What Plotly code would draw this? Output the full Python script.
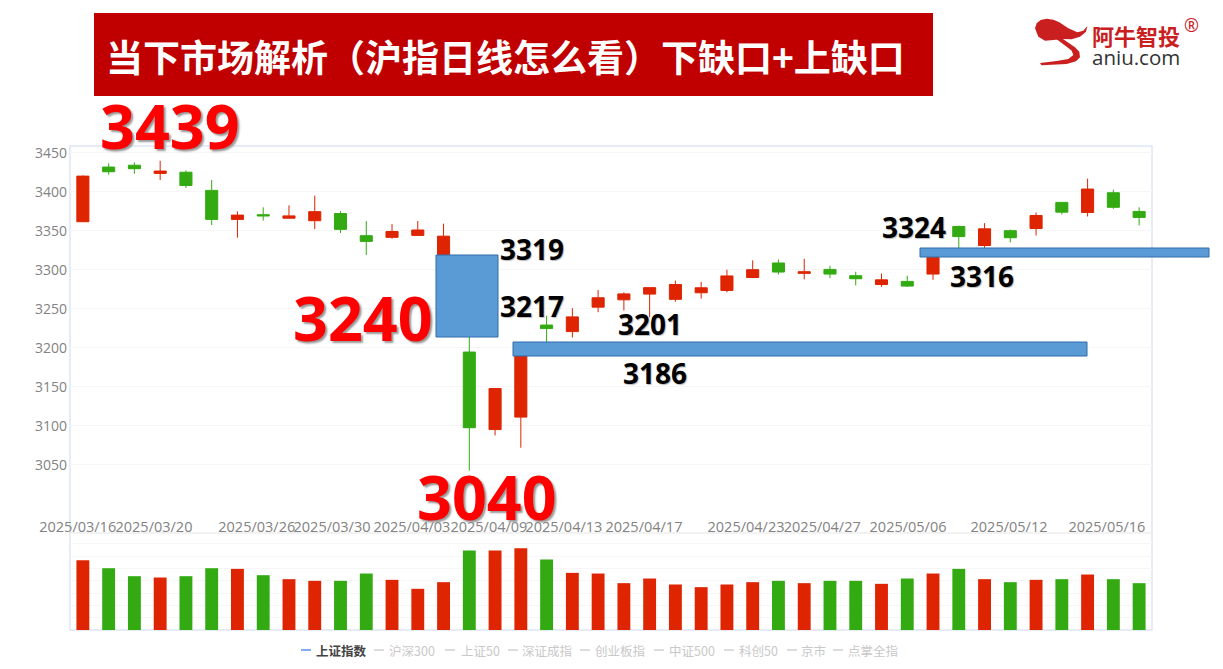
"""
Shanghai index daily candles with the gap boxes and slide header drawn over them.
"""

import numpy as np
import plotly.graph_objects as go
from plotly.subplots import make_subplots

W, H = 1223, 669
PAGE_MARGIN = 8  # default body margin of the page write_html produces

# candles, index 0..41
OPEN = [3361.5, 3431.6, 3434.0, 3423.5, 3425.0, 3401.7, 3364.5, 3370.5, 3366.0, 3362.8, 3372.0, 3343.6,
        3341.5, 3344.0, 3319.3, 3194.4, 3095.0, 3111.0, 3229.0, 3220.6, 3252.0, 3261.4, 3268.7, 3262.0,
        3270.4, 3273.4, 3290.0, 3308.6, 3295.3, 3300.4, 3292.3, 3281.0, 3285.0, 3294.4, 3355.4, 3331.0,
        3350.0, 3352.8, 3386.3, 3373.4, 3398.7, 3374.7]
CLOSE = [3420.0, 3425.6, 3429.5, 3426.5, 3408.0, 3364.5, 3370.0, 3369.0, 3369.0, 3374.4, 3351.7, 3336.3,
         3349.0, 3350.9, 3343.0, 3097.4, 3147.6, 3190.0, 3224.5, 3239.5, 3264.0, 3269.0, 3277.0, 3281.0,
         3276.8, 3292.0, 3300.0, 3297.0, 3297.4, 3294.4, 3288.4, 3287.0, 3279.0, 3316.0, 3342.5, 3352.4,
         3341.0, 3369.5, 3373.8, 3403.4, 3380.0, 3367.0]
HIGH = [3421.0, 3436.3, 3437.6, 3439.7, 3427.4, 3415.0, 3374.8, 3380.0, 3382.5, 3395.0, 3375.0, 3362.4,
        3358.5, 3362.4, 3359.0, 3217.0, 3147.6, 3190.0, 3241.0, 3250.6, 3274.0, 3271.0, 3277.0, 3286.0,
        3284.5, 3300.0, 3312.0, 3313.0, 3314.0, 3305.0, 3297.4, 3295.0, 3292.3, 3316.0, 3356.6, 3359.7,
        3351.5, 3373.4, 3386.3, 3416.7, 3402.6, 3380.0]
LOW = [3361.5, 3422.0, 3423.0, 3415.0, 3404.7, 3357.3, 3341.0, 3363.0, 3366.0, 3352.0, 3347.0, 3318.8,
       3339.7, 3344.0, 3319.0, 3042.5, 3087.5, 3071.7, 3204.0, 3213.0, 3245.5, 3247.6, 3239.0, 3259.0,
       3263.0, 3271.0, 3289.7, 3294.0, 3287.6, 3289.3, 3279.8, 3278.0, 3278.0, 3287.0, 3326.6, 3328.0,
       3335.0, 3343.8, 3370.8, 3368.2, 3378.0, 3356.7]
VOLUME = [210, 186, 162, 158, 162, 186, 184, 165, 153, 148, 148, 170, 151, 124, 144, 239, 239, 246, 212, 172,
          170, 141, 155, 137, 129, 137, 144, 148, 141, 148, 148, 139, 155, 170, 184, 153, 144, 151, 153, 167,
          153, 141]

TICK_POS = [-0.2, 2.76, 6.75, 9.67, 12.77, 15.76, 18.67, 21.78, 25.74, 28.7, 32.03, 35.95, 39.75]
TICK_TEXT = ["2025/03/16", "2025/03/20", "2025/03/26", "2025/03/30", "2025/04/03", "2025/04/09", "2025/04/13",
             "2025/04/17", "2025/04/23", "2025/04/27", "2025/05/06", "2025/05/12", "2025/05/16"]
PRICE_TICKS = [3050, 3100, 3150, 3200, 3250, 3300, 3350, 3400, 3450]

RED = "#DE2400"
GREEN = "#33AA12"
GREY = "#828282"
BORDER = "#DDE5F5"
GRID = "#F6F6F6"
CJK = "Noto Sans CJK SC"
LATIN = "Open Sans"

# legend: name, x of dash, x of text centre (pixels)
LEGEND_NAMES = ["上证指数", "沪深300", "上证50", "深证成指", "创业板指", "中证500", "科创50", "京市", "点掌全指"]
LEGEND_DASH_X = [301, 374, 445, 508, 580, 654, 724, 787, 833]
LEGEND_TEXT_X = [341, 412, 480, 547, 620, 692, 758, 814, 873]

# slide overlays, in picture pixels
BIG_LABELS = [("3439", 170, 125), ("3240", 363, 318), ("3040", 487, 496)]
SMALL_LABELS = [("3319", 532, 249), ("3217", 532, 306), ("3201", 650, 324),
                ("3186", 655, 373), ("3324", 914, 227), ("3316", 982, 276)]
GAP_BOXES = [(436, 255, 498, 337), (513, 342, 1087, 356), (920, 248, 1209, 257)]

LOGO_HEAD = [(105, 85), (110, 70), (122, 60), (140, 56), (160, 59), (178, 67), (205, 85), (232, 97), (250, 92),
             (262, 78), (258, 95), (240, 110), (215, 118), (190, 117), (160, 120), (135, 122), (115, 110)]
LOGO_TAIL = [(160, 110), (190, 118), (225, 142), (238, 155), (240, 172), (228, 184), (200, 192), (125, 196),
             (120, 189), (170, 183), (205, 177), (220, 165), (215, 152), (200, 140)]

FIG_W = W - 2 * PAGE_MARGIN
FIG_H = H - 2 * PAGE_MARGIN


def px(x):
    return (x - PAGE_MARGIN) / FIG_W


def py(y):
    return 1 - (y - PAGE_MARGIN) / FIG_H


def logo_path(points):
    cmds = [f"{px(1000 + x / 3):.5f},{py(y / 3):.5f}" for x, y in points]
    return "M" + "L".join(cmds) + "Z"


def add_text(fig, text, x, y, size, color, family=LATIN, bold=False, shadow=None):
    font = dict(size=size, color=color, family=family, weight="bold" if bold else "normal")
    if shadow:
        font["shadow"] = shadow
    fig.add_annotation(text=text, x=px(x), y=py(y), xref="paper", yref="paper", showarrow=False,
                       xanchor="center", yanchor="middle", font=font)


def paper_rect(fig, x0, y0, x1, y1, **kw):
    fig.add_shape(type="rect", xref="paper", yref="paper", x0=px(x0), x1=px(x1), y0=py(y0), y1=py(y1), **kw)


def build():
    idx = np.arange(len(OPEN))
    fig = make_subplots(rows=2, cols=1)

    fig.add_trace(go.Candlestick(
        x=idx, open=OPEN, high=HIGH, low=LOW, close=CLOSE, showlegend=False,
        increasing=dict(line=dict(color=RED, width=1), fillcolor=RED),
        decreasing=dict(line=dict(color=GREEN, width=1), fillcolor=GREEN),
    ), row=1, col=1)

    colors = [RED if c >= o else GREEN for o, c in zip(OPEN, CLOSE)]
    fig.add_trace(go.Bar(x=idx, y=VOLUME, marker=dict(color=colors, line_width=0), showlegend=False),
                  row=2, col=1)

    fig.update_xaxes(range=[-0.5, 41.5], showgrid=False, zeroline=False, rangeslider_visible=False, ticks="",
                     automargin=False)
    fig.update_xaxes(domain=[px(70), px(1152)], row=1, col=1, tickmode="array", tickvals=TICK_POS,
                     ticktext=TICK_TEXT, tickangle=0, tickfont=dict(size=14.5, color=GREY, family=LATIN))
    fig.update_xaxes(domain=[px(70), px(1152)], row=2, col=1, showticklabels=False)

    # 0.78 px per point, 3450 sits at y=152.7
    fig.update_yaxes(domain=[py(516), py(146)], range=[2984.2, 3458.6], row=1, col=1, tickmode="array",
                     tickvals=PRICE_TICKS, gridcolor=GRID, zeroline=False, ticks="", automargin=False,
                     ticklabelstandoff=2, tickfont=dict(size=14, color=GREY, family=LATIN))
    fig.update_yaxes(domain=[py(630), py(533)], range=[0, 292], dtick=37, row=2, col=1, gridcolor=GRID,
                     zeroline=False, showticklabels=False, ticks="", automargin=False)

    # chart frame and the divider above the volume pane
    paper_rect(fig, 70, 146, 1152, 630, line=dict(color=BORDER, width=1.5), layer="below")
    fig.add_shape(type="line", xref="paper", yref="paper", x0=px(70), x1=px(1152), y0=py(533), y1=py(533),
                  line=dict(color="#EEEEEE", width=1.5), layer="below")

    # header banner
    paper_rect(fig, 94, 13, 933, 96, fillcolor="#C00000", line_width=0, layer="above")
    add_text(fig, "当下市场解析（沪指日线怎么看）下缺口+上缺口", 506, 56, 37, "white", CJK, bold=True)

    # logo
    for pts in (LOGO_HEAD, LOGO_TAIL):
        fig.add_shape(type="path", xref="paper", yref="paper", path=logo_path(pts),
                      fillcolor="#C9201F", line_width=0, layer="above")
    add_text(fig, "阿牛智投", 1136, 35, 22, "#C9201F", CJK, bold=True)
    add_text(fig, "aniu.com", 1136, 57, 20.5, "#333333", LATIN)
    add_text(fig, "®", 1191, 25, 18, "#C9201F", LATIN)

    # gap boxes
    for x0, y0, x1, y1 in GAP_BOXES:
        paper_rect(fig, x0, y0, x1, y1, fillcolor="#5B9BD5", line=dict(color="#2E6DAA", width=1), layer="above")

    for text, x, y in BIG_LABELS:
        add_text(fig, text, x, y, 61, "#FF0000", LATIN, bold=True, shadow="2px 2px 2px #999999")
    for text, x, y in SMALL_LABELS:
        add_text(fig, text, x, y, 28, "#000000", LATIN, bold=True, shadow="1px 1px 1px #BBBBBB")

    # index switcher under the chart
    for i, (name, dash_x, text_x) in enumerate(zip(LEGEND_NAMES, LEGEND_DASH_X, LEGEND_TEXT_X)):
        active = i == 0
        fig.add_shape(type="line", xref="paper", yref="paper", x0=px(dash_x), x1=px(dash_x + 10),
                      y0=py(650), y1=py(650), line=dict(color="#5B8FF9" if active else "#D0D0D0", width=1.5))
        add_text(fig, name, text_x, 650, 12.5, "#444444" if active else "#C8C8C8", CJK, bold=active)

    fig.update_layout(width=FIG_W, height=FIG_H, margin=dict(l=0, r=0, t=0, b=0), paper_bgcolor="white",
                      plot_bgcolor="white", bargap=0.5, boxgap=0.33, showlegend=False)
    return fig


fig = build()
fig.write_html("out.html")
